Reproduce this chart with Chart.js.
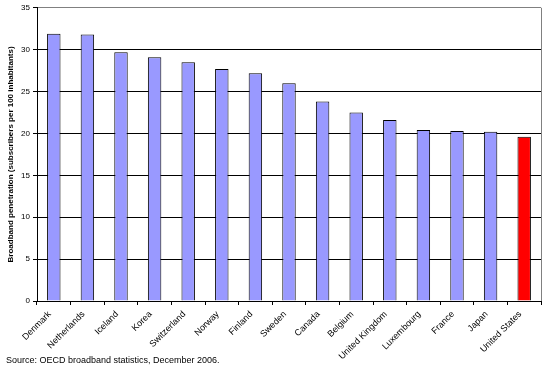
<!DOCTYPE html>
<html>
<head>
<meta charset="utf-8">
<script src="https://cdn.jsdelivr.net/npm/chart.js@4/dist/chart.umd.min.js"></script>
<style>
  html, body { margin: 0; padding: 0; background: #ffffff; }
  #wrap { width: 546px; height: 368px; position: relative; }
  #source {
    position: absolute; left: 6px; top: 355px;
    font: 9px/11px "Liberation Sans", Arial, sans-serif; color: #000;
    white-space: nowrap;
  }
</style>
</head>
<body>
<div id="wrap">
  <canvas id="bbChart"></canvas>
  <div id="source">Source: OECD broadband statistics, December 2006.</div>
</div>
<script>
// OECD broadband penetration, December 2006
let countries = [
    'Denmark', 'Netherlands', 'Iceland', 'Korea', 'Switzerland',
    'Norway', 'Finland', 'Sweden', 'Canada', 'Belgium',
    'United Kingdom', 'Luxembourg', 'France', 'Japan', 'United States'
];
let penetration = [31.9, 31.8, 29.7, 29.1, 28.5, 27.7, 27.2, 26.0, 23.8, 22.5, 21.6, 20.4, 20.3, 20.2, 19.6];
let yTicks = [0, 5, 10, 15, 20, 25, 30, 35];

const highlight = 'United States';
const fontFamily = '"Liberation Sans", Arial, sans-serif';

// right-hand frame line of the plot area
Chart.register({
    id: 'plotFrame',
    afterDraw: (chart) => {
        const a = chart.chartArea;
        const c = chart.ctx;
        c.save();
        c.strokeStyle = '#808080';
        c.lineWidth = 1;
        c.beginPath();
        c.moveTo(Math.round(a.right) + 0.5, a.top);
        c.lineTo(Math.round(a.right) + 0.5, a.bottom);
        c.stroke();
        c.restore();
    }
});

const ctx = document.getElementById('bbChart').getContext('2d');
const chart = new Chart(ctx, {
    type: 'bar',
    data: {
        labels: countries,
        datasets: [{
            label: 'Broadband penetration',
            data: penetration,
            backgroundColor: countries.map(c => c === highlight ? '#FF0000' : '#9999FF'),
            borderColor: '#000000',
            borderWidth: 1,
            barPercentage: 0.4,
            categoryPercentage: 1.0
        }]
    },
    options: {
        responsive: true,
        maintainAspectRatio: false,
        animation: false,
        layout: { padding: { left: 6, right: 5, top: 7, bottom: 0 } },
        plugins: {
            legend: { display: false },
            tooltip: { enabled: false }
        },
        scales: {
            x: {
                offset: true,
                border: { color: '#000000', width: 1 },
                grid: {
                    offset: true,
                    drawOnChartArea: false,
                    drawTicks: true,
                    tickLength: 4,
                    color: '#000000'
                },
                ticks: {
                    color: '#000000',
                    font: { family: fontFamily, size: 9 },
                    minRotation: 45,
                    maxRotation: 45,
                    autoSkip: false,
                    padding: 4,
                    labelOffset: -4
                },
                afterFit: (scale) => { scale.height = 67; }
            },
            y: {
                min: 0,
                max: 35,
                border: { color: '#000000', width: 1 },
                grid: {
                    color: (c) => c.tick && c.tick.value === 35 ? '#808080' : '#000000',
                    tickColor: '#000000',
                    tickLength: 4,
                    lineWidth: 1
                },
                afterBuildTicks: (scale) => { scale.ticks = yTicks.map(v => ({ value: v })); },
                ticks: {
                    color: '#000000',
                    font: { family: fontFamily, size: 8 },
                    padding: 3
                },
                title: {
                    display: true,
                    text: 'Broadband penetration (subscribers per 100 inhabitants)',
                    color: '#000000',
                    font: { family: fontFamily, size: 8, weight: 'bold' },
                    padding: 0
                },
                afterFit: (scale) => { scale.width = 31; }
            }
        }
    }
});
</script>
</body>
</html>
